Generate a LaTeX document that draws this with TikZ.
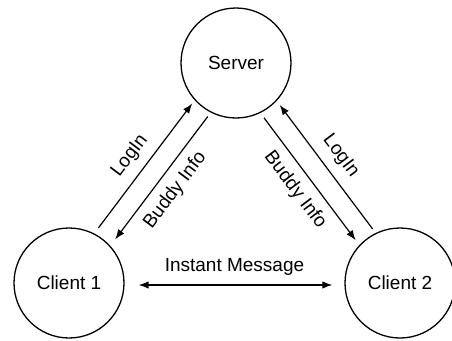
\documentclass[tikz,border=0pt]{standalone}
\usepackage{fontspec}
\setmainfont{Liberation Sans}
\usetikzlibrary{arrows.meta}
\begin{document}
\begin{tikzpicture}[x=1pt,y=-1pt,
  every node/.style={font=\fontsize{19}{21}\selectfont},
  peer/.style={draw, circle, line width=1.3pt, minimum size=110pt, inner sep=0pt},
  msg/.style={line width=1.2pt},
  tipend/.style={-{Latex[length=10pt,width=7.5pt]}},
  tipstart/.style={{Latex[length=10pt,width=7.5pt]}-},
  lbl/.style={sloped, midway, inner sep=3pt}
]
\useasboundingbox (0,0) rectangle (452,340);
\node[peer] (s)  at (236,63)  {Server};
\node[peer] (c1) at (69,283)  {Client 1};
\node[peer] (c2) at (400,283) {Client 2};

% left side
\draw[msg, tipend, shorten <=7pt, shorten >=4pt] (c1.63.3) -- (s.222.3)
  node[lbl, above=6pt] {LogIn};
\draw[msg, tipstart, shorten <=8pt, shorten >=5pt] (c1.42.3) -- (s.243.3)
  node[lbl, below=6pt] {Buddy Info};

% right side
\draw[msg, tipstart, shorten <=5pt, shorten >=5pt] (s.317.4) -- (c2.116.4)
  node[lbl, above=6pt] {LogIn};
\draw[msg, tipend, shorten <=6pt, shorten >=6pt] (s.296.4) -- (c2.137.4)
  node[lbl, below=6pt] {Buddy Info};

% instant message
\draw[line width=1.2pt, {Latex[length=10pt,width=7.5pt]}-{Latex[length=10pt,width=7.5pt]},
  shorten <=14pt, shorten >=12pt] ([yshift=-2pt]c1.east) -- ([yshift=-2pt]c2.west)
  node[midway, above=6pt] {Instant Message};
\end{tikzpicture}
\end{document}
